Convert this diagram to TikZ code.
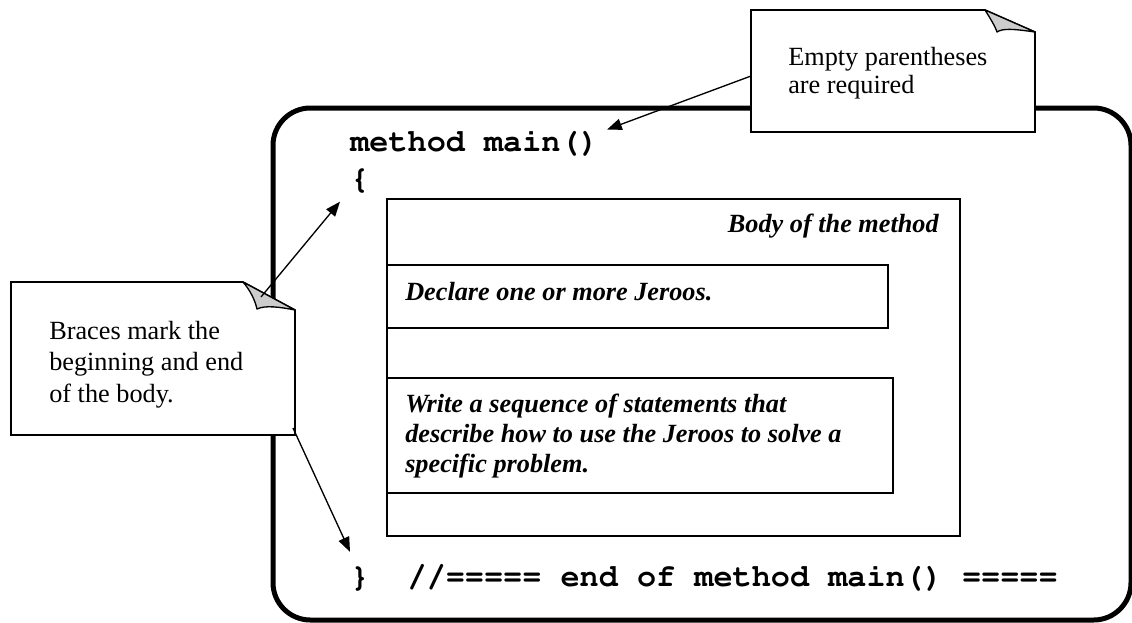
\documentclass[tikz,border=0pt]{standalone}
\usepackage[T1]{fontenc}
\usepackage{fontspec}
\setmainfont{Liberation Serif}
\usetikzlibrary{arrows.meta,fit}

\begin{document}
\begin{tikzpicture}[x=0.75pt,y=-0.75pt,
    >={Triangle[length=11pt,width=8.5pt]},
    codeline/.style={font=\fontencoding{T1}\fontfamily{pcr}\bfseries\fontsize{23.9}{30}\selectfont, inner sep=0, anchor=base west},
    bodytext/.style={font=\bfseries\itshape\fontsize{19.7}{22.4}\selectfont, inner sep=0, align=left},
    calltext/.style={font=\fontsize{19.7}{23.6}\selectfont, inner sep=0, align=left, anchor=base west},
    codebox/.style={draw, line width=1.2pt, inner sep=0},
    callbox/.style={draw, fill=white, line width=1.2pt},
    fold/.style={draw, fill=black!20, line width=1pt, line join=round}]
    \clip (0,0) rectangle (1132,622);

    % outer frame of the method
    \draw[line width=3.75pt, rounded corners=28pt] (273,108) rectangle (1131,620);

    \node[codeline] (head) at (350,151) {method main()};
    \node[codeline] (open) at (350,188) {\{};
    \node[codeline] (close) at (350,586) {\}\ \ //===== end of method main() =====};

    \node[codebox, fit={(387,199) (960,536)}] (body) {};
    \node[codebox, fit={(387,265) (888,328)}] (declarebox) {};
    \node[codebox, fit={(387,378) (893,493)}] (writebox) {};

    \node[bodytext, anchor=base east] (bodylabel) at (939,232) {Body of the method};
    \node[bodytext, anchor=base west] (declare) at (405,300) {Declare one or more Jeroos.};
    % base of a multi-line node is its last line
    \node[bodytext, anchor=base west] (write) at (405,472) {Write a sequence of statements that\\describe how to use the Jeroos to solve a\\specific problem.};

    % callouts
    \draw[callbox] (751,10) -- (985,10) -- (1035,32) -- (1035,132) -- (751,132) -- cycle;
    \draw[fold] (985,10) -- (1035,32) .. controls (1014,29) and (1003,28) .. (997,32) .. controls (995,26) and (990,18) .. cycle;
    \node[calltext, font=\fontsize{19.7}{21}\selectfont] (parenstext) at (788,93) {Empty parentheses\\are required};

    \draw[callbox] (11,282) -- (243,282) -- (295,310) -- (295,435) -- (11,435) -- cycle;
    \draw[fold] (243,282) -- (295,310) .. controls (280,307) and (265,305) .. (257,309) .. controls (255,300) and (250,290) .. cycle;
    \node[calltext] (bracestext) at (49,402) {Braces mark the\\beginning and end\\of the body.};

    \coordinate (parensfoot) at (751,76);
    \coordinate (bracesfoot) at (261,297);
    \coordinate (bracestail) at (293,428);

    \draw[->, line width=1pt] (parensfoot) -- ([xshift=6pt]head.north east);
    \draw[->, line width=1pt] (bracesfoot) -- ([xshift=-7.5pt,yshift=-7.5pt]open.south west);
    \draw[->, line width=1pt] (bracestail) -- ([yshift=9.5pt]close.north west);
\end{tikzpicture}
\end{document}
